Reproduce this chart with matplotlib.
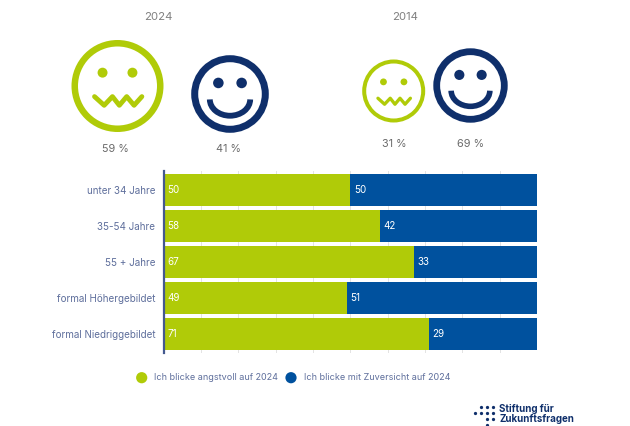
import numpy as np
import matplotlib
matplotlib.use("Agg")
import matplotlib.pyplot as plt
from matplotlib.patches import Circle, Arc

plt.rcParams['font.family'] = ['Inter', 'DejaVu Sans']

W, H = 630, 426

GREEN = '#B0CB08'
BLUE = '#00519E'
NAVY = '#0F2F6B'
LABEL = '#5F6F9C'
GREY = '#6A6A6A'

groups = ['unter 34 Jahre', '35-54 Jahre', '55 + Jahre', 'formal Höhergebildet', 'formal Niedriggebildet']
anxious = [50, 58, 67, 49, 71]
confident = [50, 42, 33, 51, 29]
legend_labels = ['Ich blicke angstvoll auf 2024', 'Ich blicke mit Zuversicht auf 2024']

years = ['2024', '2014']
year_x = [158, 405]
shares = ['59 %', '41 %', '31 %', '69 %']
# x, y, radius and ring width of the four faces in pixels
face_x = [117.5, 230, 393.7, 470.5]
face_y = [86, 94, 91, 85.5]
face_r = [46, 38.8, 31.5, 37.2]
face_ring = [6.5, 7.0, 4.0, 6.8]
face_kind = ['worried', 'happy', 'worried', 'happy']
share_x = [115, 228, 394, 471]
share_y = [149, 149, 144, 144]


def draw_face(ax, x, y, r, ring, kind):
    color = GREEN if kind == 'worried' else NAVY
    lw = ring * 72 / 100
    ax.add_patch(Circle((x, y), r - ring / 2, fill=False, ec=color, lw=lw))
    if kind == 'worried':
        eye_dx, eye_dy = 0.325, -0.29
        eye_r = 0.108
    else:
        eye_dx, eye_dy = 0.30, -0.285
        eye_r = 0.136
    for s in (-1, 1):
        ax.add_patch(Circle((x + s * eye_dx * r, y + eye_dy * r), eye_r * r, color=color, lw=0))
    if kind == 'worried':
        zx = np.array([-0.50, -0.29, -0.11, 0.04, 0.2, 0.36, 0.53]) * r
        zy = np.array([0.23, 0.42, 0.23, 0.42, 0.23, 0.42, 0.23]) * r
        ax.plot(x + zx, y + zy, color=color, lw=0.105 * r * 72 / 100,
                solid_capstyle='round', solid_joinstyle='round')
    else:
        ax.add_patch(Arc((x, y + 0.14 * r), 1.04 * r, 0.84 * r, theta1=0, theta2=180,
                         ec=color, lw=0.15 * r * 72 / 100))


fig = plt.figure(figsize=(W / 100, H / 100), dpi=100, facecolor='white')

# bars
ax = fig.add_axes([163.5 / W, 1 - 353 / H, (537 - 163.5) / W, (353 - 171) / H])
y = np.arange(len(groups))
ax.barh(y, anxious, height=0.885, color=GREEN, zorder=2)
ax.barh(y, confident, left=anxious, height=0.885, color=BLUE, zorder=2)
ax.set_xlim(0, 100)
ax.set_ylim(4.52, -0.533)
ax.set_yticks(y)
ax.set_yticklabels(groups, fontsize=7.1, color=LABEL)
ax.set_xticks(np.arange(0, 101, 10))
ax.tick_params(axis='both', length=0, labelbottom=False)
ax.tick_params(axis='y', pad=6)
ax.grid(axis='x', color='#E3E3E3', lw=0.7, zorder=1)
for side in ('top', 'right', 'bottom'):
    ax.spines[side].set_visible(False)
ax.spines['left'].set_color('#44598F')
ax.spines['left'].set_linewidth(1.6)
ax.spines['left'].set_zorder(3)
for i in y:
    ax.text(1, i, str(anxious[i]), color='white', fontsize=7.1, va='center', zorder=4)
    ax.text(anxious[i] + 1, i, str(confident[i]), color='white', fontsize=7.1, va='center', zorder=4)

# overlay in pixel coordinates for faces, legend and logo
ov = fig.add_axes([0, 0, 1, 1], facecolor='none')
ov.set_xlim(0, W)
ov.set_ylim(H, 0)
ov.axis('off')

for name, x in zip(years, year_x):
    ov.text(x, 17, name, ha='center', va='center', fontsize=8.2, color='#808080')
for x, yy, r, ring, kind in zip(face_x, face_y, face_r, face_ring, face_kind):
    draw_face(ov, x, yy, r, ring, kind)
for s, x, yy in zip(shares, share_x, share_y):
    ov.text(x, yy, s, ha='center', va='center', fontsize=7.8, color=GREY)

# legend
ov.add_patch(Circle((141.7, 377.7), 5.6, color=GREEN, lw=0))
ov.text(154.5, 377.5, legend_labels[0], fontsize=6.5, color=LABEL, va='center')
ov.add_patch(Circle((291, 377.7), 5.6, color=BLUE, lw=0))
ov.text(304, 377.5, legend_labels[1], fontsize=6.5, color=LABEL, va='center')

# logo
dot_x = [475, 481, 481, 487, 487, 487, 493, 493, 493, 487]
dot_y = [413, 407, 413, 407, 413, 419, 407, 413, 419, 425]
ov.scatter(dot_x, dot_y, s=5.5, color=NAVY, lw=0)
ov.text(499, 408.5, 'Stiftung für', fontsize=7.0, fontweight='bold', color=NAVY, va='center')
ov.text(499, 418.5, 'Zukunftsfragen', fontsize=7.0, fontweight='bold', color=NAVY, va='center')

fig.savefig('out.png', dpi=100)
